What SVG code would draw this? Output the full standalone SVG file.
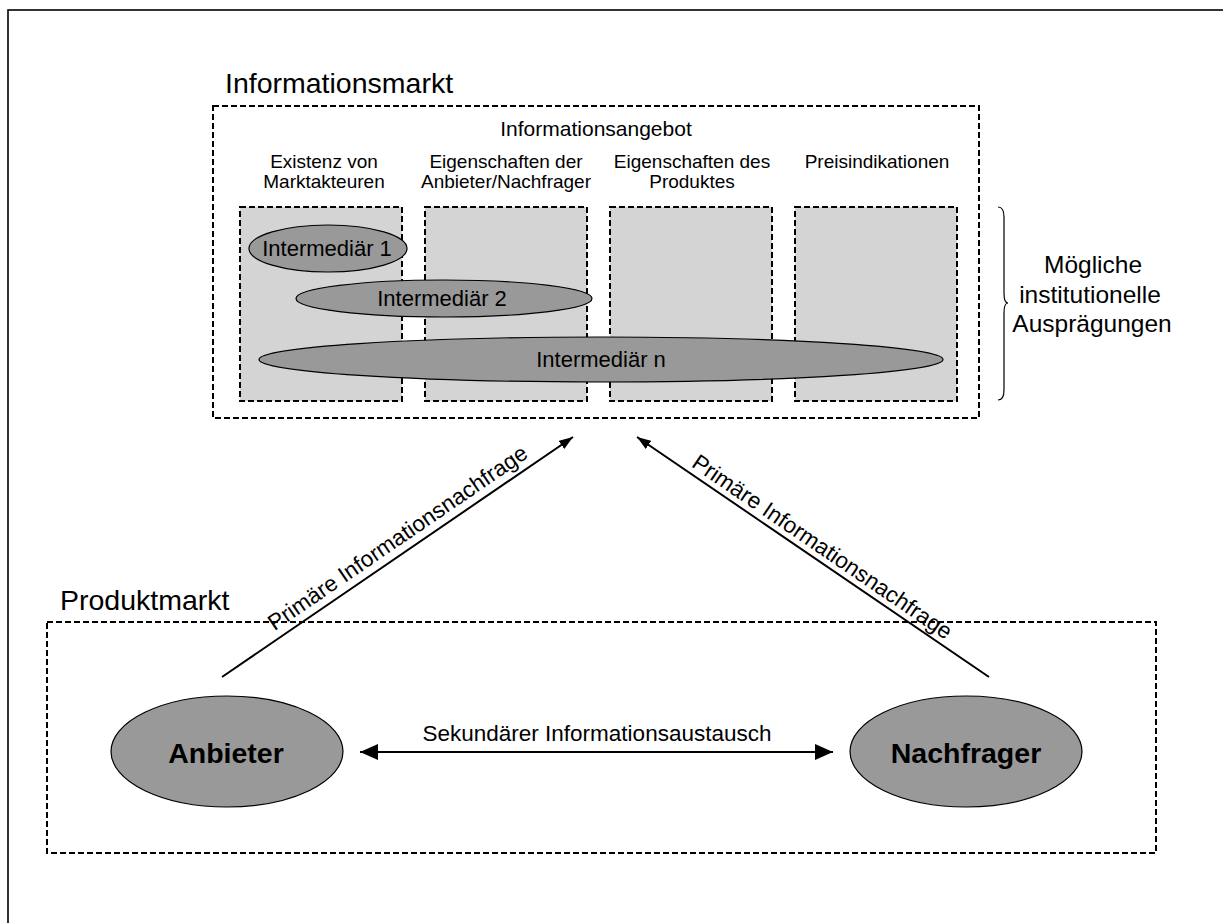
<svg xmlns="http://www.w3.org/2000/svg" width="1223" height="923" viewBox="0 0 1223 923">
<style>
text{font-family:"Liberation Sans",Arial,sans-serif;fill:#000}
.dash{fill:none;stroke:#000;stroke-width:2;stroke-dasharray:6 3}
.box{fill:#d4d4d4;stroke:#000;stroke-width:2;stroke-dasharray:6 3}
.ell{fill:#999;stroke:#000;stroke-width:1.2}
.h{font-size:19px;text-anchor:middle}
.im{font-size:22px;text-anchor:middle}
.big{font-size:28.5px;font-weight:bold;text-anchor:middle}
.title{font-size:28.5px}
.lbl{font-size:22.5px;text-anchor:middle}
.line{stroke:#000;stroke-width:2;fill:none}
</style>
<defs>
<marker id="ah" viewBox="0 0 10 10" refX="10" refY="5" markerWidth="7" markerHeight="7" markerUnits="userSpaceOnUse" orient="auto">
<path d="M0,0 L10,5 L0,10 z" fill="#000"/>
</marker>
<marker id="ahBig" viewBox="0 0 18 16" refX="18" refY="8" markerWidth="18" markerHeight="16" markerUnits="userSpaceOnUse" orient="auto-start-reverse">
<path d="M0,0 L18,8 L0,16 z" fill="#000"/>
</marker>
<marker id="ahSmall" viewBox="0 0 14 10" refX="14" refY="5" markerWidth="14" markerHeight="10" markerUnits="userSpaceOnUse" orient="auto">
<path d="M0,0 L14,5 L0,10 z" fill="#000"/>
</marker>
</defs>
<rect id="frame" x="8" y="10" width="1240" height="940" fill="#fff" stroke="#000" stroke-width="1.6"/>

<g id="informationsmarkt">
<text class="title" x="225" y="93">Informationsmarkt</text>
<rect class="dash" x="213" y="106" width="766" height="312"/>
<text x="596" y="136" style="font-size:21px;text-anchor:middle">Informationsangebot</text>
</g>

<g id="col1">
<text class="h" x="324" y="168">Existenz von</text>
<text class="h" x="324" y="188">Marktakteuren</text>
<rect class="box" x="240" y="207" width="162" height="194"/>
</g>
<g id="col2">
<text class="h" x="506" y="168">Eigenschaften der</text>
<text class="h" x="506" y="188">Anbieter/Nachfrager</text>
<rect class="box" x="425" y="207" width="162" height="194"/>
</g>
<g id="col3">
<text class="h" x="692" y="168">Eigenschaften des</text>
<text class="h" x="692" y="188">Produktes</text>
<rect class="box" x="610" y="207" width="162" height="194"/>
</g>
<g id="col4">
<text class="h" x="877" y="168">Preisindikationen</text>
<rect class="box" x="795" y="207" width="162" height="194"/>
</g>

<g id="intermediaer1">
<ellipse class="ell" cx="328" cy="248.5" rx="79" ry="23.5"/>
<text class="im" x="327" y="256">Intermediär 1</text>
</g>
<g id="intermediaer2">
<ellipse class="ell" cx="444" cy="298.5" rx="148" ry="18.5"/>
<text class="im" x="442" y="306">Intermediär 2</text>
</g>
<g id="intermediaern">
<ellipse class="ell" cx="601" cy="359.5" rx="342" ry="22.5"/>
<text class="im" x="601" y="367">Intermediär n</text>
</g>

<g id="ausprägungen">
<path d="M998,207 Q1004,207 1004,217 L1004,293 Q1004,303 1008,303 Q1004,303 1004,313 L1004,390 Q1004,400 998,400" fill="none" stroke="#000" stroke-width="1.2"/>
<text x="1093" y="273" style="font-size:24.5px;text-anchor:middle">Mögliche</text>
<text x="1090" y="303" style="font-size:24.5px;text-anchor:middle">institutionelle</text>
<text x="1092" y="332" style="font-size:24.5px;text-anchor:middle">Ausprägungen</text>
</g>

<g id="produktmarkt">
<text class="title" x="60" y="610">Produktmarkt</text>
<rect class="dash" x="47" y="622" width="1109" height="231"/>
</g>

<g id="anbieter">
<ellipse class="ell" cx="227" cy="751.5" rx="116" ry="55.5"/>
<text class="big" x="226" y="763">Anbieter</text>
</g>
<g id="nachfrager">
<ellipse class="ell" cx="966" cy="751.5" rx="116" ry="55.5"/>
<text class="big" x="966" y="763">Nachfrager</text>
</g>

<g id="connectors">
<line class="line" x1="222" y1="677" x2="573" y2="437" marker-end="url(#ahSmall)"/>
<line class="line" x1="989" y1="677" x2="637" y2="437" marker-end="url(#ahSmall)"/>
<line class="line" x1="360" y1="752" x2="833" y2="752" marker-start="url(#ahBig)" marker-end="url(#ahBig)"/>
<text class="lbl" transform="translate(402,544) rotate(-34.4)">Primäre Informationsnachfrage</text>
<text class="lbl" transform="translate(818,553) rotate(34.3)">Primäre Informationsnachfrage</text>
<text class="lbl" x="597" y="741">Sekundärer Informationsaustausch</text>
</g>
</svg>
